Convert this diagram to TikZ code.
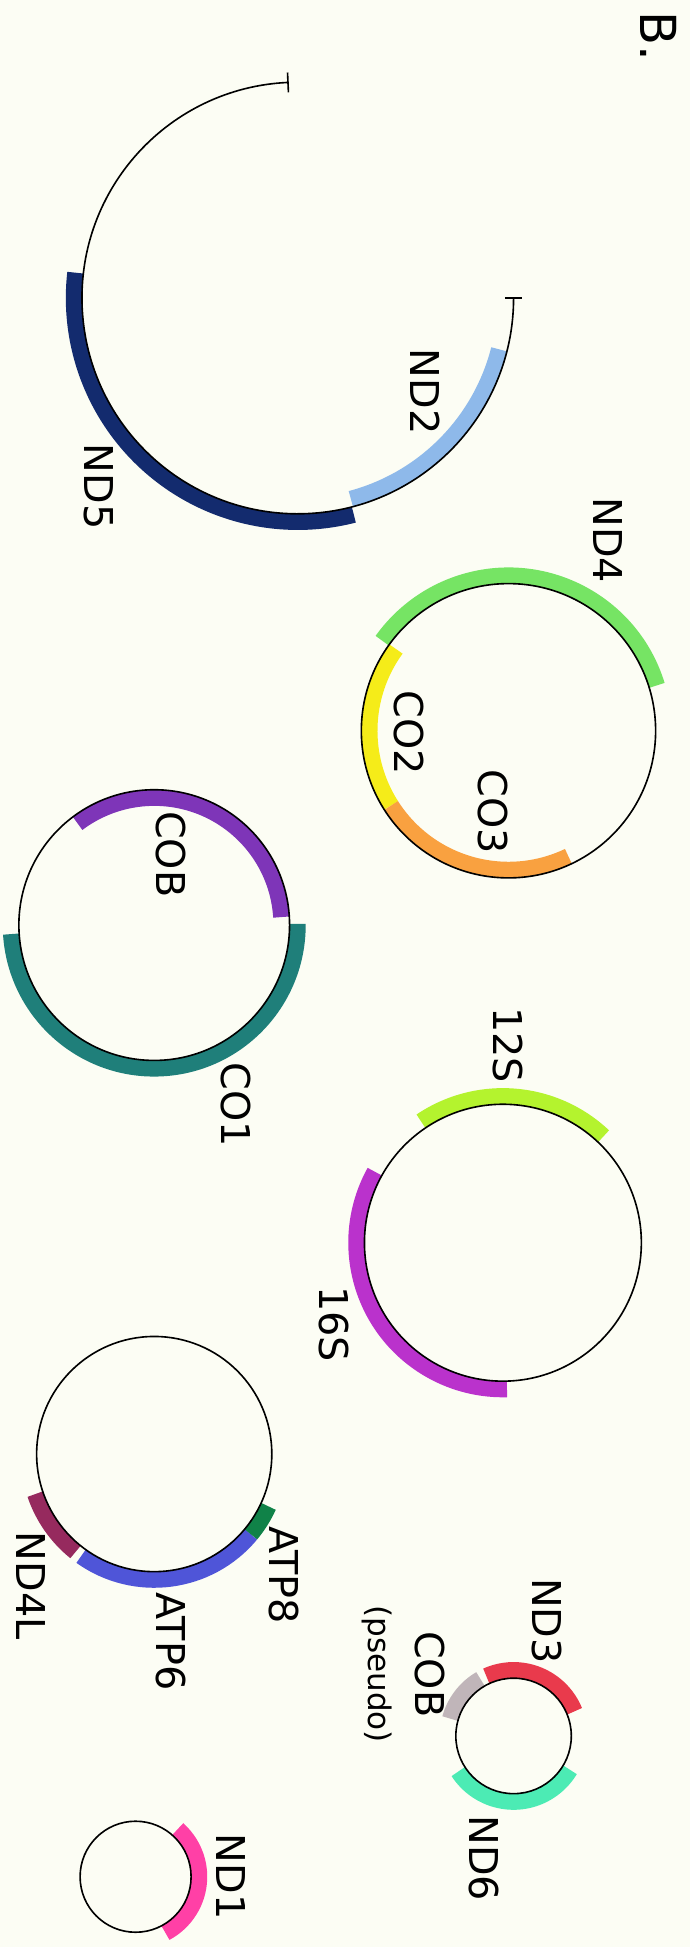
\documentclass[tikz,border=0pt]{standalone}
\usepackage{fontspec}
\setmainfont{DejaVu Sans}
\usetikzlibrary{calc}

\definecolor{paper}{RGB}{252,253,244}
\definecolor{cND5}{RGB}{19,43,110}
\definecolor{cND2}{RGB}{142,185,234}
\definecolor{cND4}{RGB}{118,228,100}
\definecolor{cCO2}{RGB}{245,236,25}
\definecolor{cCO3}{RGB}{249,161,64}
\definecolor{cCOB}{RGB}{126,53,184}
\definecolor{cCO1}{RGB}{31,127,122}
\definecolor{cS12}{RGB}{180,243,46}
\definecolor{cS16}{RGB}{186,50,204}
\definecolor{cND4L}{RGB}{150,42,94}
\definecolor{cATP6}{RGB}{79,85,216}
\definecolor{cATP8}{RGB}{16,130,72}
\definecolor{cND3}{RGB}{233,58,76}
\definecolor{cPSEUDO}{RGB}{192,181,185}
\definecolor{cND6}{RGB}{76,235,180}
\definecolor{cND1}{RGB}{255,64,166}

\begin{document}
\begin{tikzpicture}[
			x=1pt, y=1pt,
			ring/.style={draw=black, line width=1.3pt},
			band/.style={line width=13pt},
			endtick/.style={draw=black, line width=1.3pt},
			lbl/.style={font=\fontsize{32}{38}\selectfont, rotate=-90, inner sep=0pt},
			panel/.style={font=\fontsize{40}{46}\selectfont, rotate=-90, inner sep=0pt}
			]
			
			%% ── Page ────────────────────────────────────────────────────────────
			\fill[paper] (0,0) rectangle (556,-1568);
			\node[panel] (panelB) at (530.4,-29.6) {B.};
			
			%% ── Centres ─────────────────────────────────────────────────────────
			\coordinate (c1) at (239.8,-240.0);
			\coordinate (c2) at (409.5,-588.5);
			\coordinate (c3) at (124.2,-745.0);
			\coordinate (c4) at (405.0,-1000.8);
			\coordinate (c5) at (124.2,-1171.0);
			\coordinate (c6) at (413.6,-1398.0);
			\coordinate (c7) at (109.2,-1511.4);
			
			%% ── Linear piece: ND5 / ND2 ─────────────────────────────────────────
			\draw[band, cND5] ([shift={(173.5:180.3pt)}]c1) arc[start angle=173.5, end angle=284.5, radius=180.3pt];
			\draw[band, cND2] ([shift={(284.8:167.3pt)}]c1) arc[start angle=284.8, end angle=345.7, radius=167.3pt];
			\draw[ring] ([shift={(92.6:173.8pt)}]c1) arc[start angle=92.6, end angle=360, radius=173.8pt];
			\draw[endtick] ([shift={(92.6:165.8pt)}]c1) -- ([shift={(92.6:181.8pt)}]c1);
			\draw[endtick] ([shift={(0:166.8pt)}]c1) -- ([shift={(0:180.8pt)}]c1);
			\node[lbl] (lND5) at (79.4,-392.0) {ND5};
			\node[lbl] (lND2) at (342.3,-315.5) {ND2};
			
			%% ── ND4 / CO2 / CO3 ────────────────────────────────────────────────
			\draw[band, cND4] ([shift={(17:125pt)}]c2) arc[start angle=17, end angle=144.5, radius=125pt];
			\draw[band, cCO2] ([shift={(144:112pt)}]c2) arc[start angle=144, end angle=212.5, radius=112pt];
			\draw[band, cCO3] ([shift={(212.5:112pt)}]c2) arc[start angle=212.5, end angle=295.5, radius=112pt];
			\draw[ring] (c2) circle[radius=118.5pt];
			\node[lbl] (lND4) at (490.0,-435.0) {ND4};
			\node[lbl] (lCO2) at (329.0,-590.0) {CO2};
			\node[lbl] (lCO3) at (397.0,-654.0) {CO3};
			
			%% ── COB / CO1 ──────────────────────────────────────────────────────
			\draw[band, cCOB] ([shift={(3.6:102.5pt)}]c3) arc[start angle=3.6, end angle=127, radius=102.5pt];
			\draw[band, cCO1] ([shift={(183.6:115.5pt)}]c3) arc[start angle=183.6, end angle=360.5, radius=115.5pt];
			\draw[ring] (c3) circle[radius=109pt];
			\node[lbl] (lCOB) at (138.0,-688.0) {COB};
			\node[lbl] (lCO1) at (190.0,-890.0) {CO1};
			
			%% ── 12S / 16S ──────────────────────────────────────────────────────
			\draw[band, cS12] ([shift={(46.6:118pt)}]c4) arc[start angle=46.6, end angle=124, radius=118pt];
			\draw[band, cS16] ([shift={(151:118pt)}]c4) arc[start angle=151, end angle=271.6, radius=118pt];
			\draw[ring] (c4) circle[radius=111.5pt];
			\node[lbl] (lS12) at (409.0,-841.5) {12S};
			\node[lbl] (lS16) at (269.0,-1066.5) {16S};
			
			%% ── ND4L / ATP6 / ATP8 ─────────────────────────────────────────────
			\draw[band, cND4L] ([shift={(198.6:101.2pt)}]c5) arc[start angle=198.6, end angle=231.2, radius=101.2pt];
			\draw[band, cATP6] ([shift={(234.4:101.2pt)}]c5) arc[start angle=234.4, end angle=320.3, radius=101.2pt];
			\draw[band, cATP8] ([shift={(320.3:101.2pt)}]c5) arc[start angle=320.3, end angle=335.4, radius=101.2pt];
			\draw[ring] (c5) circle[radius=94.7pt];
			\node[lbl] (lATP8) at (229.0,-1268.5) {ATP8};
			\node[lbl] (lATP6) at (137.5,-1322.0) {ATP6};
			\node[lbl] (lND4L) at (24.7,-1277.0) {ND4L};
			
			%% ── ND3 / COB (pseudo) / ND6 ───────────────────────────────────────
			\draw[band, cND3] ([shift={(22:53pt)}]c6) arc[start angle=22, end angle=114.5, radius=53pt];
			\draw[band, cPSEUDO] ([shift={(120.2:53pt)}]c6) arc[start angle=120.2, end angle=164.7, radius=53pt];
			\draw[band, cND6] ([shift={(212.8:53pt)}]c6) arc[start angle=212.8, end angle=329, radius=53pt];
			\draw[ring] (c6) circle[radius=46.5pt];
			\node[lbl] (lND3) at (440.5,-1305.4) {ND3};
			\node[lbl, align=center] (lPSEUDO) at (325.0,-1348.3) {COB\\{\fontsize{25}{30}\selectfont (pseudo)}};
			\node[lbl] (lND6) at (389.5,-1496.6) {ND6};
			
			%% ── ND1 ────────────────────────────────────────────────────────────
			\draw[band, cND1] ([shift={(-62:51.2pt)}]c7) arc[start angle=-62, end angle=48.5, radius=51.2pt];
			\draw[ring] (c7) circle[radius=44.7pt];
			\node[lbl] (lND1) at (185.9,-1511.4) {ND1};
			
		\end{tikzpicture}
\end{document}
